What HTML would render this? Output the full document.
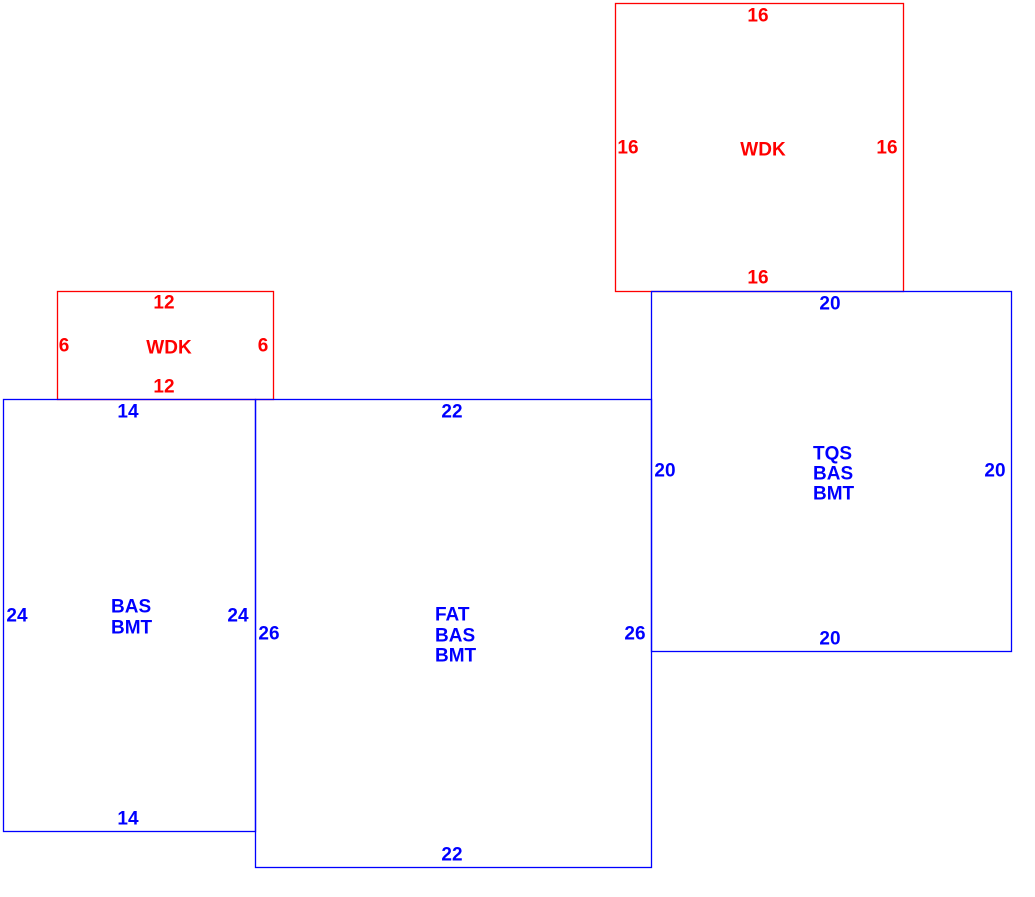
<!DOCTYPE html>
<html><head><meta charset="utf-8"><style>html,body{margin:0;padding:0;background:#fff}svg{display:block}text{font-family:"Liberation Sans",sans-serif;font-weight:bold;font-size:19px;text-anchor:middle;dominant-baseline:central}text.l{text-anchor:start}</style></head>
<body>
<svg width="1035" height="897" viewBox="0 0 1035 897">
<g fill="none" stroke-width="1.3">
<rect x="615.5" y="3.5" width="288" height="288" stroke="#ff0000"/>
<rect x="57.5" y="291.5" width="216" height="108" stroke="#ff0000"/>
<rect x="3.5" y="399.5" width="252" height="432" stroke="#0000ff"/>
<rect x="255.5" y="399.5" width="396" height="468" stroke="#0000ff"/>
<rect x="651.5" y="291.5" width="360" height="360" stroke="#0000ff"/>
</g>
<g fill="#ff0000" transform="translate(0,1)">
<text x="758" y="15">16</text><text x="628" y="147">16</text><text x="887" y="147">16</text><text x="758" y="277">16</text><text x="763" y="149">WDK</text>
<text x="164" y="302">12</text><text x="64" y="345">6</text><text x="263" y="345">6</text><text x="169" y="347">WDK</text><text x="164" y="386">12</text>
</g>
<g fill="#0000ff" transform="translate(0,1)">
<text x="128" y="411">14</text><text x="17" y="615">24</text><text x="238" y="615">24</text><text class="l" x="111" y="606">BAS</text><text class="l" x="111" y="627">BMT</text><text x="128" y="818">14</text>
<text x="452" y="411">22</text><text x="269" y="633">26</text><text x="635" y="633">26</text><text class="l" x="435" y="614">FAT</text><text class="l" x="435" y="635">BAS</text><text class="l" x="435" y="655">BMT</text><text x="452" y="854">22</text>
<text x="830" y="303">20</text><text x="665" y="470">20</text><text x="995" y="470">20</text><text class="l" x="813" y="453">TQS</text><text class="l" x="813" y="473">BAS</text><text class="l" x="813" y="493">BMT</text><text x="830" y="638">20</text>
</g>
</svg>
</body></html>
